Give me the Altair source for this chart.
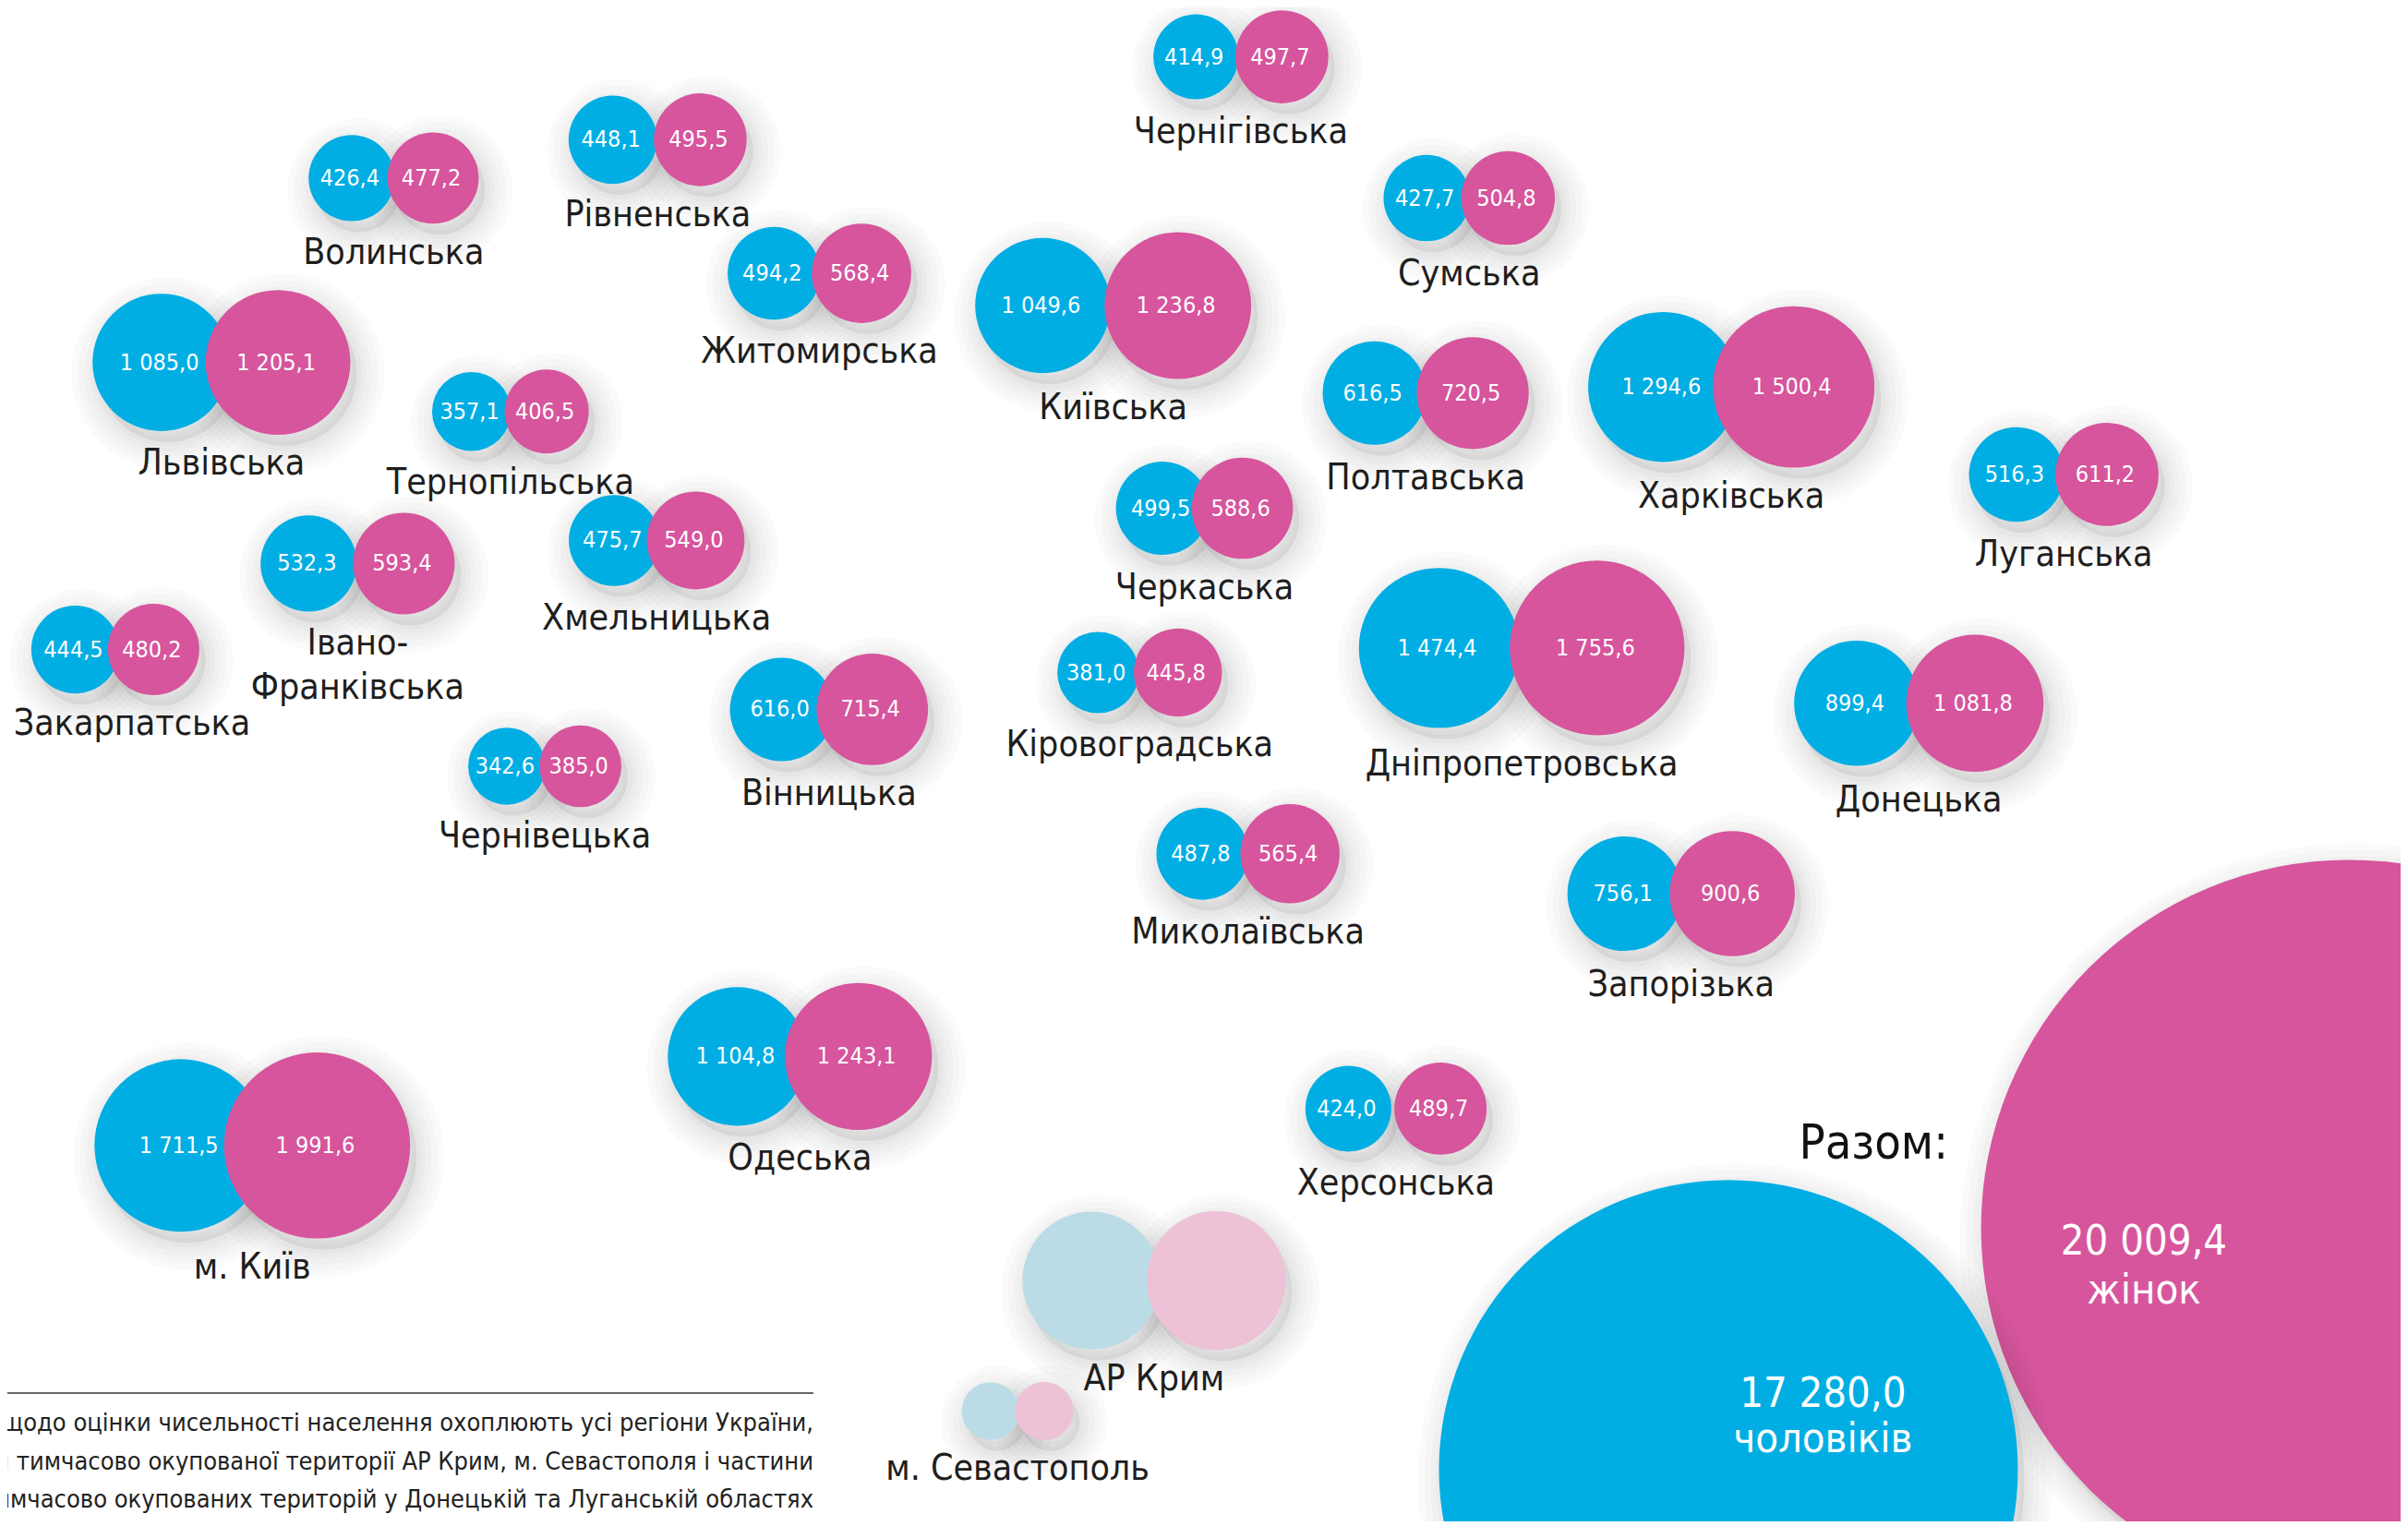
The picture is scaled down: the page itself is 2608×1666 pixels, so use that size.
import math
import altair as alt
import pandas as pd

# ---------------- data (thousand people), layout ----------------
regions = ["Чернігівська", "Волинська", "Рівненська", "Житомирська", "Київська", "Сумська",
           "Львівська", "Тернопільська", "Полтавська", "Харківська", "Луганська", "Черкаська",
           "Хмельницька", "Івано-Франківська", "Закарпатська", "Дніпропетровська", "Кіровоградська",
           "Донецька", "Вінницька", "Чернівецька", "Миколаївська", "Запорізька", "Одеська",
           "Херсонська", "м. Київ"]
men = [414.9, 426.4, 448.1, 494.2, 1049.6, 427.7, 1085.0, 357.1, 616.5, 1294.6, 516.3, 499.5,
       475.7, 532.3, 444.5, 1474.4, 381.0, 899.4, 616.0, 342.6, 487.8, 756.1, 1104.8, 424.0, 1711.5]
women = [497.7, 477.2, 495.5, 568.4, 1236.8, 504.8, 1205.1, 406.5, 720.5, 1500.4, 611.2, 588.6,
         549.0, 593.4, 480.2, 1755.6, 445.8, 1081.8, 715.4, 385.0, 565.4, 900.6, 1243.1, 489.7, 1991.6]
# map-like placement of each pair (units of the 1568-wide reference view)
men_x = [778.7, 229, 399, 504, 679, 929, 105, 307, 895, 1083, 1313, 757, 400, 201, 49, 937, 715,
         1209, 509, 330, 783, 1058, 480, 878, 117.7]
women_x = [834.7, 282, 456, 561, 767, 982, 181, 356, 959, 1168, 1372, 809, 453, 263, 100, 1040, 767,
           1286, 568, 378, 840, 1128, 559, 938, 206.5]
pair_y = [37, 116, 91, 178, 199, 129, 236, 268, 256, 252, 309, 331, 352, 367, 423, 422, 438, 458,
          462, 499, 556, 582, 688, 722, 746]

# temporarily occupied territories: no figures printed, circle sizes estimated
occ_regions = ["АР Крим", "м. Севастополь"]
occ_men = [1090.0, 190.0]
occ_women = [1110.0, 195.0]
occ_men_x = [710.6, 645.0]
occ_women_x = [792.0, 680.0]
occ_y = [834.0, 919.0]

total_words = ["чоловіків", "жінок"]
totals = [17280.0, 20009.4]
total_x = [1125.5, 1530.0]
total_y = [957.0, 800.0]
total_title = "Разом:"

footnote = ["щодо оцінки чисельності населення охоплюють усі регіони України,",
            "и тимчасово окупованої території АР Крим, м. Севастополя і частини",
            "имчасово окупованих територій у Донецькій та Луганській областях"]

# ---------------- styling / geometry ----------------
W, H = 2592, 1640
PX = 2608 / 1568.0            # screen px per layout unit
X0 = 8 / PX
X1 = X0 + W / PX
Y0 = 8 / PX
Y1 = Y0 + H / PX
SIZE_K = 20.4                 # Vega symbol size (diameter^2) per thousand people
LABEL_GAP = 26
F = "'Liberation Sans Narrow', 'DejaVu Sans Condensed', 'Roboto Condensed', Roboto, sans-serif"
GROUPS = ["Чоловіки", "Жінки", "Чоловіки (окуповані)", "Жінки (окуповані)"]
COLORS = ["#00AEE4", "#D6559C", "#BBDCE6", "#EDC1D6"]


def radius(v):
    return math.sqrt(SIZE_K * v) / 2 / PX


def fmt(v):
    return f"{v:,.1f}".replace(",", " ").replace(".", ",")


rows, names = [], []
all_sets = [(regions, men, women, men_x, women_x, pair_y, GROUPS[0], GROUPS[1]),
            (occ_regions, occ_men, occ_women, occ_men_x, occ_women_x, occ_y, GROUPS[2], GROUPS[3])]
for regs, mv, wv, mx, wx, yy, gm, gw in all_sets:
    for i, r in enumerate(regs):
        rows.append(dict(region=r, group=gm, value=mv[i], x=mx[i], y=yy[i], label=fmt(mv[i])))
        rows.append(dict(region=r, group=gw, value=wv[i], x=wx[i], y=yy[i], label=fmt(wv[i])))
        rm, rw = radius(mv[i]), radius(wv[i])
        left, right = mx[i] - rm, wx[i] + rw
        bottom = yy[i] + max(rm, rw)
        text = r.replace("-", "-\n")
        longest = max(len(t) for t in text.split("\n"))
        nx = max((left + right) / 2, longest * 12.5 / 2 + 11)
        names.append(dict(name=text, x=nx, y=bottom + LABEL_GAP))

circles = pd.DataFrame(rows)
names_df = pd.DataFrame(names)
tot_df = pd.DataFrame(dict(group=[GROUPS[0], GROUPS[1]], value=totals, x=total_x, y=total_y))
tot_num = pd.DataFrame(dict(text=[fmt(t) for t in totals], x=[1187.0, 1396.0], y=[916.0, 817.0]))
tot_word = pd.DataFrame(dict(text=total_words, x=[1187.0, 1396.0], y=[946.0, 849.0]))
foot_df = pd.DataFrame(dict(text=footnote, x=[529.7] * 3, y=[932.0 + 25 * i for i in range(3)]))
rule_df = pd.DataFrame(dict(x=[0.0], x2=[529.7], y=[907.3]))
title_df = pd.DataFrame(dict(text=[total_title], x=[1220.0], y=[754.5]))

X = alt.X("x:Q", scale=alt.Scale(domain=[X0, X1], nice=False, zero=False), axis=None)
Y = alt.Y("y:Q", scale=alt.Scale(domain=[Y0, Y1], nice=False, zero=False, reverse=True), axis=None)
COLOR = alt.Color("group:N", scale=alt.Scale(domain=GROUPS, range=COLORS), legend=None)
SIZE = alt.Size("value:Q", scale=alt.Scale(domain=[0, 2000], range=[0, 2000 * SIZE_K], zero=False),
                legend=None)
TSIZE = alt.Size("value:Q", scale=alt.Scale(domain=[totals[0], totals[1]],
                                            range=[(2 * 188.5 * PX) ** 2, (2 * 240 * PX) ** 2],
                                            zero=False), legend=None)


def shadows(df, size):
    out = [alt.Chart(df).mark_circle(fill="black", opacity=0.06, xOffset=7, yOffset=12, clip=True)
           .encode(x=X, y=Y, size=size)]
    for w in [10, 20, 32, 46, 60]:
        out.append(alt.Chart(df).mark_circle(fill="black", fillOpacity=0, stroke="black", strokeWidth=w,
                                             strokeOpacity=0.02, xOffset=7, yOffset=12, clip=True)
                   .encode(x=X, y=Y, size=size))
    return out


layers = []
layers.append(alt.Chart(rule_df).mark_rule(color="#333333", strokeWidth=1.5, clip=True)
              .encode(x=X, x2="x2:Q", y=Y))
layers.append(alt.Chart(foot_df).mark_text(font=F, fontSize=27, color="#222222", align="right",
                                           baseline="alphabetic", clip=True)
              .encode(x=X, y=Y, text="text:N"))
layers += shadows(circles, SIZE)
layers.append(alt.Chart(circles).mark_circle(opacity=1, clip=True)
              .encode(x=X, y=Y, size=SIZE, color=COLOR)
              .transform_filter(alt.FieldOneOfPredicate(field="group", oneOf=[GROUPS[0], GROUPS[2]])))
layers.append(alt.Chart(circles).mark_circle(opacity=1, clip=True)
              .encode(x=X, y=Y, size=SIZE, color=COLOR)
              .transform_filter(alt.FieldOneOfPredicate(field="group", oneOf=[GROUPS[1], GROUPS[3]])))
layers.append(alt.Chart(circles).mark_text(font=F, fontSize=25, color="white", align="center",
                                           baseline="middle", dx=-2)
              .encode(x=X, y=Y, text="label:N")
              .transform_filter(alt.FieldOneOfPredicate(field="group", oneOf=[GROUPS[0], GROUPS[1]])))
layers.append(alt.Chart(names_df).mark_text(font=F, fontSize=39, color="#1E1E1E", align="center",
                                            baseline="alphabetic", lineBreak="\n", lineHeight=48)
              .encode(x=X, y=Y, text="name:N"))
# totals: women behind, men in front
tw = tot_df[tot_df.group == GROUPS[1]]
tm = tot_df[tot_df.group == GROUPS[0]]
layers += shadows(tw, TSIZE)
layers.append(alt.Chart(tw).mark_circle(opacity=1, clip=True).encode(x=X, y=Y, size=TSIZE, color=COLOR))
layers += shadows(tm, TSIZE)
layers.append(alt.Chart(tm).mark_circle(opacity=1, clip=True).encode(x=X, y=Y, size=TSIZE, color=COLOR))
for tdf in (tot_num, tot_word):
    layers.append(alt.Chart(tdf).mark_text(font=F, fontSize=45, color="white", align="center",
                                           baseline="alphabetic")
                  .encode(x=X, y=Y, text="text:N"))
layers.append(alt.Chart(title_df).mark_text(font=F, fontSize=52, color="#111111", align="center",
                                            baseline="alphabetic")
              .encode(x=X, y=Y, text="text:N"))

chart = (alt.layer(*layers)
         .resolve_scale(size="independent")
         .properties(width=W, height=H, padding=0, autosize=alt.AutoSizeParams(type="none"))
         .configure_view(strokeWidth=0))

chart.save("out.html", embed_options={"renderer": "svg", "actions": False})
